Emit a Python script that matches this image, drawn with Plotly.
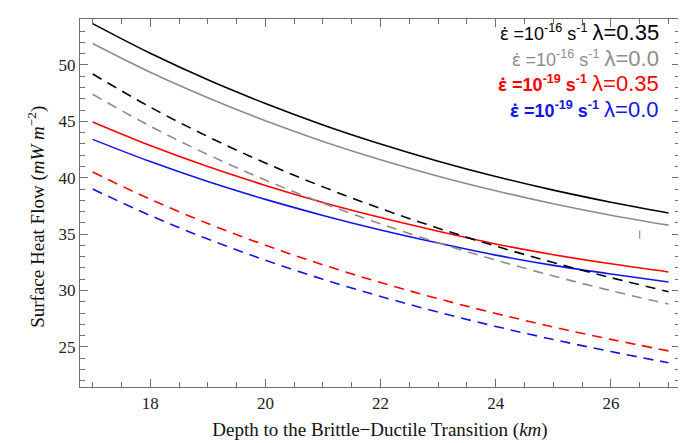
import plotly.graph_objects as go

depth_km = [17, 18, 19, 20, 21, 22, 23, 24, 25, 26, 27]

# Surface heat flow (mW m^-2)
e16_l035_solid = [53.66, 51.03, 48.68, 46.58, 44.68, 42.99, 41.47, 40.11, 38.90, 37.83, 36.88]
e16_l00_solid = [51.90, 49.35, 47.09, 45.05, 43.22, 41.60, 40.14, 38.85, 37.70, 36.68, 35.80]
e19_l035_solid = [44.95, 42.86, 40.99, 39.32, 37.81, 36.47, 35.26, 34.13, 33.18, 32.37, 31.65]
e19_l00_solid = [43.40, 41.43, 39.66, 38.08, 36.66, 35.37, 34.21, 33.14, 32.23, 31.46, 30.76]
e16_l035_dash = [49.20, 46.26, 43.65, 41.30, 39.19, 37.27, 35.53, 33.94, 32.48, 31.14, 29.90]
e16_l00_dash = [47.40, 44.57, 42.05, 39.79, 37.75, 35.91, 34.23, 32.70, 31.29, 29.99, 28.80]
e19_l035_dash = [40.50, 38.09, 35.94, 34.02, 32.28, 30.71, 29.28, 27.97, 26.77, 25.67, 24.65]
e19_l00_dash = [39.00, 36.65, 34.56, 32.69, 31.00, 29.48, 28.09, 26.82, 25.66, 24.59, 23.60]

marker_x = [26.5, 26.5]
marker_y = [34.6, 35.3]

x_ticks = [18, 20, 22, 24, 26]
y_ticks = [25, 30, 35, 40, 45, 50]

BLACK = "#000000"
GRAY = "#8c8c8c"
RED = "#ff0000"
BLUE = "#1414e6"
DASH = "10px,7px"

series = [
    (e16_l035_solid, BLACK, "solid"),
    (e16_l00_solid, GRAY, "solid"),
    (e19_l035_solid, RED, "solid"),
    (e19_l00_solid, BLUE, "solid"),
    (e16_l035_dash, BLACK, DASH),
    (e16_l00_dash, GRAY, DASH),
    (e19_l035_dash, RED, DASH),
    (e19_l00_dash, BLUE, DASH),
]

fig = go.Figure()
for ys, col, dash in series:
    fig.add_trace(go.Scatter(x=depth_km, y=ys, mode="lines",
                             line=dict(color=col, width=1.6, dash=dash, shape="spline"),
                             showlegend=False, hoverinfo="skip"))
fig.add_trace(go.Scatter(x=marker_x, y=marker_y, mode="lines",
                         line=dict(color=GRAY, width=1.2), showlegend=False, hoverinfo="skip"))

AXC = "#707070"
axis_common = dict(showline=True, linecolor=AXC, linewidth=1.2, mirror="ticks",
                   ticks="inside", tickcolor=AXC, tickwidth=1, showgrid=False, zeroline=False,
                   tickfont=dict(family="Liberation Serif", size=17, color="#222"))

fig.update_xaxes(range=[16.78, 27.2], tickvals=x_ticks, ticklen=8,
                 minor=dict(ticks="inside", dtick=0.5, tick0=17, ticklen=5, tickcolor=AXC, showgrid=False),
                 title=dict(text="Depth to the Brittle\u2212Ductile Transition (<i>km</i>)",
                            font=dict(family="Liberation Serif", size=19, color="#111"), standoff=11),
                 **axis_common)
fig.update_yaxes(range=[21.45, 54.07], tickvals=y_ticks, ticklen=8,
                 minor=dict(ticks="inside", dtick=1, tick0=20, ticklen=5, tickcolor=AXC, showgrid=False),
                 **axis_common)

fig.add_annotation(xref="paper", yref="paper", x=-0.072, y=0.462, xanchor="center", yanchor="middle",
                   textangle=-90, showarrow=False,
                   text="Surface Heat Flow (<i>mW m</i><sup>\u22122</sup>)",
                   font=dict(family="Liberation Serif", size=19, color="#111"))

EPS = "<span style=\"font-family:'Noto Sans'\">\u03b5\u0307</span>"
legend_rows = [
    (EPS + " =10<sup>-16</sup> s<sup>-1</sup>", "0.35", BLACK, False, 0.962),
    (EPS + " =10<sup>-16</sup> s<sup>-1</sup>", "0.0", GRAY, False, 0.893),
    (EPS + " =10<sup>-19</sup> s<sup>-1</sup>", "0.35", RED, True, 0.824),
    (EPS + " =10<sup>-19</sup> s<sup>-1</sup>", "0.0", BLUE, True, 0.755),
]
for left, lam, col, bold, yp in legend_rows:
    lt = f"<b>{left}</b>" if bold else left
    txt = f"{lt} <span style='font-size:22px'>\u03bb={lam}</span>"
    fig.add_annotation(xref="paper", yref="paper", x=0.968, y=yp, xanchor="right", yanchor="middle",
                       text=txt, showarrow=False,
                       font=dict(family="Liberation Sans", size=18, color=col))

fig.update_layout(width=686, height=443, margin=dict(l=72, r=14, t=11, b=64),
                  paper_bgcolor="white", plot_bgcolor="white")

fig.write_html("out.html")
